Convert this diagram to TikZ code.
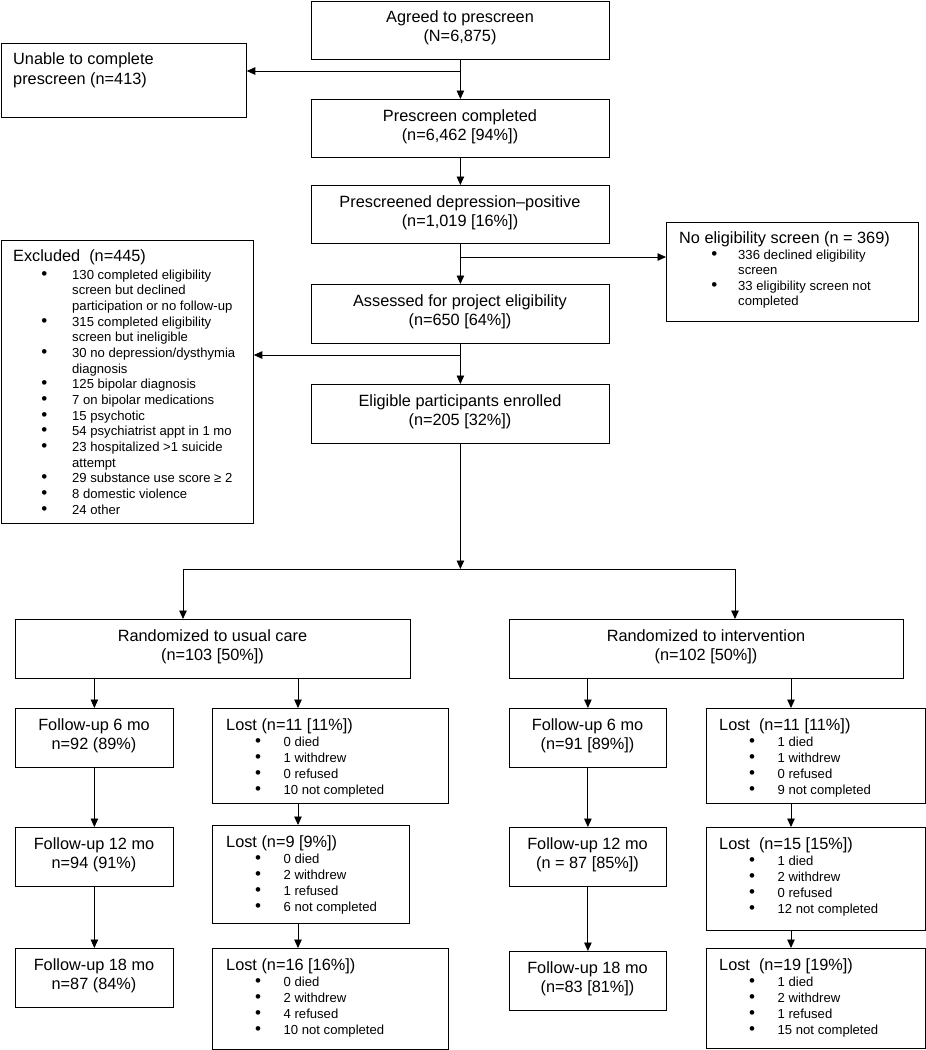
\documentclass[tikz,border=0pt]{standalone}
\usepackage{fontspec}
\setmainfont{Liberation Sans}
\usetikzlibrary{arrows.meta}
\newcommand\ctext[1]{\begin{tabular}[t]{@{}c@{}}#1\end{tabular}}
\newcommand\ltext[1]{\begin{tabular}[t]{@{}l@{}}#1\end{tabular}}
\newcommand\bdot{{\fontsize{17}{17}\selectfont\textbullet}}
\newcommand\bi[2][28.5pt]{\makebox[#1][l]{\bdot}#2}
\newcommand\bc[2][28.5pt]{\hspace*{#1}#2}
\begin{document}
\begin{tikzpicture}[x=1pt,y=-1pt,
  box/.style={draw, line width=0.8pt, inner sep=0pt, anchor=north west},
  mt/.style={font=\fontsize{16.3}{19.5}\selectfont, inner sep=0pt, anchor=base},
  ht/.style={font=\fontsize{16.3}{19.5}\selectfont, inner sep=0pt, anchor=base west},
  bt/.style={font=\fontsize{13.1}{16}\selectfont, inner sep=0pt, anchor=base west},
  arr/.style={-{Triangle[length=8.5pt,width=7.5pt]}, line width=0.9pt},
  ln/.style={line width=0.9pt}]
\useasboundingbox (0,0) rectangle (926,1050);

% top chain
\node[box, minimum width=298pt, minimum height=58.5pt] (ag) at (311,0.5) {};
\node[mt] (agt) at (460,22) {\ctext{Agreed to prescreen\\(N=6,875)}};

\node[box, minimum width=245.5pt, minimum height=74pt] (un) at (0.5,43) {};
\node[ht] (unt) at (13,64.5) {\ltext{Unable to complete\\prescreen (n=413)}};

\node[box, minimum width=298pt, minimum height=58pt] (pc) at (311,99) {};
\node[mt] (pct) at (460,121) {\ctext{Prescreen completed\\(n=6,462 [94\%])}};

\node[box, minimum width=298pt, minimum height=58pt] (pd) at (311,185) {};
\node[mt] (pdt) at (460,207) {\ctext{Prescreened depression–positive\\(n=1,019 [16\%])}};

\node[box, minimum width=252pt, minimum height=99pt] (ne) at (666,222) {};
\node[ht] (net) at (679,243.3) {No eligibility screen (n = 369)};
\node[bt, font=\fontsize{13.1}{15.5}\selectfont] (neb) at (711.2,259.3) {\ltext{\bi[26.8pt]{336 declined eligibility}\\\bc[26.8pt]{screen}\\\bi[26.8pt]{33 eligibility screen not}\\\bc[26.8pt]{completed}}};

\node[box, minimum width=298pt, minimum height=59pt] (as) at (311,284) {};
\node[mt] (ast) at (460,306) {\ctext{Assessed for project eligibility\\(n=650 [64\%])}};

\node[box, minimum width=252.5pt, minimum height=283pt] (ex) at (0.5,240) {};
\node[ht] (ext) at (13,261.7) {Excluded~~(n=445)};
\node[bt, font=\fontsize{13.1}{15.67}\selectfont] (exb) at (41.2,279) {\ltext{%
\bi[30.8pt]{130 completed eligibility}\\
\bc[30.8pt]{screen but declined}\\
\bc[30.8pt]{participation or no follow-up}\\
\bi[30.8pt]{315 completed eligibility}\\
\bc[30.8pt]{screen but ineligible}\\
\bi[30.8pt]{30 no depression/dysthymia}\\
\bc[30.8pt]{diagnosis}\\
\bi[30.8pt]{125 bipolar diagnosis}\\
\bi[30.8pt]{7 on bipolar medications}\\
\bi[30.8pt]{15 psychotic}\\
\bi[30.8pt]{54 psychiatrist appt in 1 mo}\\
\bi[30.8pt]{23 hospitalized >1 suicide}\\
\bc[30.8pt]{attempt}\\
\bi[30.8pt]{29 substance use score ≥ 2}\\
\bi[30.8pt]{8 domestic violence}\\
\bi[30.8pt]{24 other}}};

\node[box, minimum width=298pt, minimum height=59pt] (el) at (311,384) {};
\node[mt] (elt) at (460,406) {\ctext{Eligible participants enrolled\\(n=205 [32\%])}};

% randomization
\node[box, minimum width=395pt, minimum height=59pt] (ruc) at (15,619) {};
\node[mt] (ruct) at (212.5,641) {\ctext{Randomized to usual care\\(n=103 [50\%])}};
\node[box, minimum width=394pt, minimum height=59pt] (ri) at (509,619) {};
\node[mt] (rit) at (706,641) {\ctext{Randomized to intervention\\(n=102 [50\%])}};

% usual care follow-up
\node[box, minimum width=158pt, minimum height=59pt] (f6) at (15,708) {};
\node[mt] (f6t) at (94,730) {\ctext{Follow-up 6 mo\\n=92 (89\%)}};
\node[box, minimum width=158pt, minimum height=59pt] (f12) at (15,827) {};
\node[mt] (f12t) at (94,849) {\ctext{Follow-up 12 mo\\n=94 (91\%)}};
\node[box, minimum width=158pt, minimum height=59pt] (f18) at (15,948) {};
\node[mt] (f18t) at (94,970) {\ctext{Follow-up 18 mo\\n=87 (84\%)}};

\node[box, minimum width=236pt, minimum height=95pt] (l1) at (212,708) {};
\node[ht] (l1t) at (226,730) {Lost (n=11 [11\%])};
\node[bt] (l1b) at (255,746.5) {\ltext{\bi{0 died}\\\bi{1 withdrew}\\\bi{0 refused}\\\bi{10 not completed}}};
\node[box, minimum width=197pt, minimum height=98pt] (l2) at (212,825) {};
\node[ht] (l2t) at (226,847) {Lost (n=9 [9\%])};
\node[bt] (l2b) at (255,863.5) {\ltext{\bi{0 died}\\\bi{2 withdrew}\\\bi{1 refused}\\\bi{6 not completed}}};
\node[box, minimum width=236pt, minimum height=101pt] (l3) at (212,948) {};
\node[ht] (l3t) at (226,970) {Lost (n=16 [16\%])};
\node[bt] (l3b) at (255,986.5) {\ltext{\bi{0 died}\\\bi{2 withdrew}\\\bi{4 refused}\\\bi{10 not completed}}};

% intervention follow-up
\node[box, minimum width=157pt, minimum height=59pt] (g6) at (509,708) {};
\node[mt] (g6t) at (587.5,730) {\ctext{Follow-up 6 mo\\(n=91 [89\%])}};
\node[box, minimum width=157pt, minimum height=59pt] (g12) at (509,827) {};
\node[mt] (g12t) at (587.5,849) {\ctext{Follow-up 12 mo\\(n = 87 [85\%])}};
\node[box, minimum width=157pt, minimum height=59pt] (g18) at (509,951) {};
\node[mt] (g18t) at (587.5,973) {\ctext{Follow-up 18 mo\\(n=83 [81\%])}};

\node[box, minimum width=219pt, minimum height=95pt] (m1) at (706,708) {};
\node[ht] (m1t) at (719,730) {Lost~~(n=11 [11\%])};
\node[bt] (m1b) at (749,746.5) {\ltext{\bi{1 died}\\\bi{1 withdrew}\\\bi{0 refused}\\\bi{9 not completed}}};
\node[box, minimum width=219pt, minimum height=103pt] (m2) at (706,827) {};
\node[ht] (m2t) at (719,849) {Lost~~(n=15 [15\%])};
\node[bt] (m2b) at (749,865.5) {\ltext{\bi{1 died}\\\bi{2 withdrew}\\\bi{0 refused}\\\bi{12 not completed}}};
\node[box, minimum width=219pt, minimum height=100pt] (m3) at (706,948) {};
\node[ht] (m3t) at (719,970) {Lost~~(n=19 [19\%])};
\node[bt] (m3b) at (749,986.5) {\ltext{\bi{1 died}\\\bi{2 withdrew}\\\bi{1 refused}\\\bi{15 not completed}}};

% connectors
\coordinate (j1) at (460,71);
\coordinate (j2) at (460,257);
\coordinate (j3) at (460,355);
\coordinate (sl) at (183,569);
\coordinate (sr) at (735,569);
\coordinate (cL) at (298,0);
\coordinate (cR) at (791,0);

\draw[arr] (ag.south) -- (pc.north);
\draw[arr] (j1) -- (j1 -| un.east);
\draw[arr] (pc.south) -- (pd.north);
\draw[arr] (pd.south) -- (as.north);
\draw[arr] (j2) -- (j2 -| ne.west);
\draw[arr] (as.south) -- (el.north);
\draw[arr] (j3) -- (j3 -| ex.east);
\draw[ln] (sl) -- (sr);
\draw[arr] (el.south) -- (el.south |- sl);
\draw[arr] (sl) -- (sl |- ruc.north);
\draw[arr] (sr) -- (sr |- ri.north);

\draw[arr] (ruc.south -| f6.north) -- (f6.north);
\draw[arr] (f6.south) -- (f12.north);
\draw[arr] (f12.south) -- (f18.north);
\draw[arr] (ruc.south -| cL) -- (l1.north -| cL);
\draw[arr] (l1.south -| cL) -- (l2.north -| cL);
\draw[arr] (l2.south -| cL) -- (l3.north -| cL);

\draw[arr] (ri.south -| g6.north) -- (g6.north);
\draw[arr] (g6.south) -- (g12.north);
\draw[arr] (g12.south) -- (g18.north);
\draw[arr] (ri.south -| cR) -- (m1.north -| cR);
\draw[arr] (m1.south -| cR) -- (m2.north -| cR);
\draw[arr] (m2.south -| cR) -- (m3.north -| cR);
\end{tikzpicture}
\end{document}
